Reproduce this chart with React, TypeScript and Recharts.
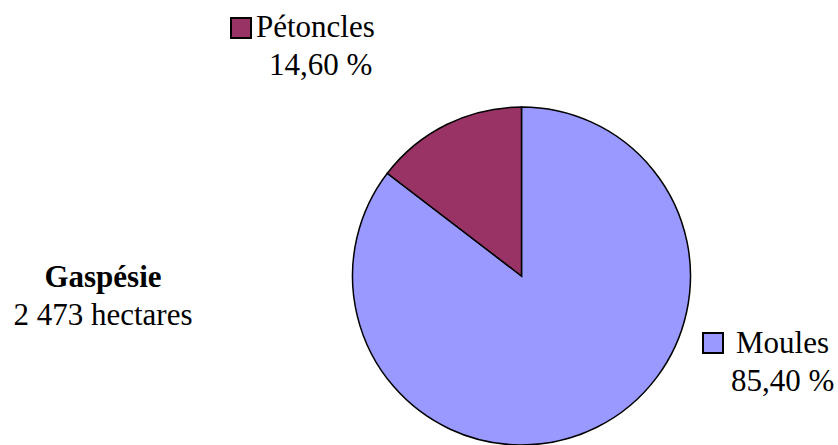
import React from 'react';
import { PieChart, Pie, Cell } from 'recharts';

const categories = ['Moules', 'Pétoncles'];
const shares = [85.4, 14.6];
const shareLabels = ['85,40 %', '14,60 %'];
const colors = ['#9999FF', '#993366'];
const regionName = 'Gaspésie';
const regionArea = '2 473 hectares';

const data = categories.map((name, i) => ({ name, value: shares[i], label: shareLabels[i] }));

const FONT = 'Liberation Serif, Times New Roman, Times, serif';
const FS = 31;

// layout positions for each slice's legend-style label
const labelPos = [
  { sx: 703, sy: 333, tx: 736, ty: 353, px: 731, py: 391 },
  { sx: 231, sy: 18, tx: 256, ty: 37, px: 269, py: 75 },
];

const renderLabel = (props: any) => {
  const { index, payload } = props;
  const p = labelPos[index];
  const d = payload && payload.payload ? payload.payload : payload;
  return (
    <g key={`lab-${index}`}>
      <rect x={p.sx} y={p.sy} width={20} height={20} fill={colors[index]} stroke="#000" strokeWidth={2} />
      <text x={p.tx} y={p.ty} style={{ fontFamily: FONT, fontSize: FS }} fill="#000">{d.name}</text>
      <text x={p.px} y={p.py} style={{ fontFamily: FONT, fontSize: FS }} fill="#000">{d.label}</text>
    </g>
  );
};

export default function App() {
  return (
    <div style={{ position: 'absolute', left: 0, top: 0, width: 838, height: 445, background: '#fff', overflow: 'hidden' }}>
      <PieChart width={838} height={445} margin={{ top: 0, right: 0, bottom: 0, left: 0 }}>
        <Pie
          data={data}
          dataKey="value"
          nameKey="name"
          cx={521.5}
          cy={276}
          outerRadius={169}
          innerRadius={0}
          startAngle={90}
          endAngle={-270}
          stroke="#000"
          strokeWidth={1.5}
          label={renderLabel}
          labelLine={false}
          isAnimationActive={false}
        >
          {data.map((d, i) => (
            <Cell key={d.name} fill={colors[i]} stroke="#000" strokeWidth={1.5} />
          ))}
        </Pie>
      </PieChart>
      <div
        style={{
          position: 'absolute',
          left: 0,
          top: 258,
          width: 206,
          textAlign: 'center',
          fontFamily: FONT,
          fontSize: FS,
          lineHeight: '38px',
          color: '#000',
        }}
      >
        <div style={{ fontWeight: 'bold' }}>{regionName}</div>
        <div>{regionArea}</div>
      </div>
    </div>
  );
}
